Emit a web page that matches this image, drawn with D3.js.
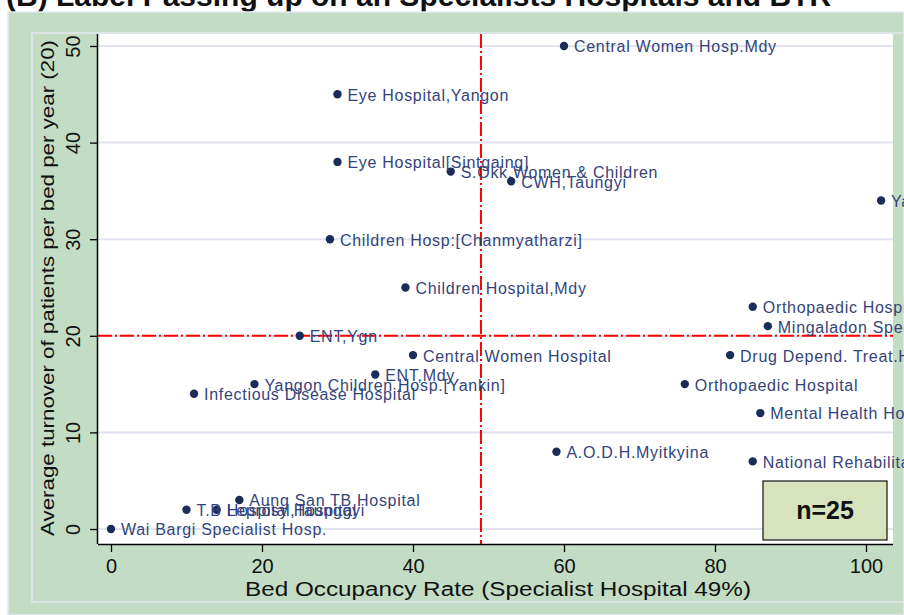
<!DOCTYPE html>
<html>
<head>
<meta charset="utf-8">
<script src="https://cdn.jsdelivr.net/npm/d3@7"></script>
<style>
  body { margin: 0; background: #ffffff; }
  svg { display: block; font-family: "Liberation Sans", Arial, sans-serif; }
</style>
</head>
<body>
<div id="chart"></div>
<script>
// hospital names, bed occupancy rate (%) and bed turnover (patients per bed per year)
const hospitals = [
    'Central Women Hosp.Mdy', 'Eye Hospital,Yangon', 'Eye Hospital[Sintgaing]',
    'S.Okk.Women & Children', 'CWH,Taungyi', 'Yangon Specialist Hospital',
    'Children Hosp:[Chanmyatharzi]', 'Children Hospital,Mdy', 'Orthopaedic Hospital,Mdy',
    'Mingaladon Specialist Hosp.', 'ENT,Ygn', 'Central Women Hospital',
    'Drug Depend. Treat.Hosp.', 'ENT,Mdy', 'Yangon Children Hosp.[Yankin]',
    'Orthopaedic Hospital', 'Infectious Disease Hospital', 'Mental Health Hospital',
    'A.O.D.H.Myitkyina', 'National Rehabilitation Hosp.', 'Aung San TB Hospital',
    'T.B Hospital,Taunggyi', 'Leprosy Hospital', 'Wai Bargi Specialist Hosp.'
];
const occupancy = [60, 30, 30, 45, 53, 102, 29, 39, 85, 87, 25, 40, 82, 35, 19, 76, 11, 86, 59, 85, 17, 10, 14, 0];
const turnover  = [50, 45, 38, 37, 36, 34, 30, 25, 23, 21, 20, 18, 18, 16, 15, 15, 14, 12, 8, 7, 3, 2, 2, 0];

const xTicks = [0, 20, 40, 60, 80, 100];
const yTicks = [0, 10, 20, 30, 40, 50];
const refBOR = 49;       // specialist hospital average occupancy
const refTurnover = 20;  // reference turnover

const titleText = '(B) Label Passing up on an Specialists Hospitals and BTR';
const xTitle = 'Bed Occupancy Rate (Specialist Hospital 49%)';
const yTitle = 'Average turnover of patients per bed per year (20)';
const nText = 'n=25';

const data = hospitals.map((name, i) => ({ name, x: occupancy[i], y: turnover[i] }));

const width = 904, height = 615;
const plot = { left: 98, right: 893, top: 34, bottom: 544 };

const svg = d3.select('#chart')
    .append('svg')
        .attr('width', width)
        .attr('height', height);

// title (mostly above the visible area)
svg.append('text')
    .attr('x', 6)
    .attr('y', 6)
    .style('font-size', '30px')
    .style('font-weight', 'bold')
    .attr('fill', '#111')
    .text(titleText);

// green background and inner border
svg.append('rect')
    .attr('x', 8).attr('y', 12)
    .attr('width', width - 8).attr('height', height - 12)
    .attr('fill', '#c2ddc3')
    .attr('stroke', '#e6e8f2')
    .attr('stroke-width', 1.5);

svg.append('rect')
    .attr('x', 32).attr('y', 33)
    .attr('width', width - 32 + 5).attr('height', 602 - 33)
    .attr('fill', 'none')
    .attr('stroke', '#e4e7f1')
    .attr('stroke-width', 1.5);

// plot area
svg.append('rect')
    .attr('x', plot.left).attr('y', plot.top)
    .attr('width', plot.right - plot.left).attr('height', plot.bottom - plot.top)
    .attr('fill', '#ffffff');

svg.append('clipPath')
    .attr('id', 'plotClip')
    .append('rect')
        .attr('x', plot.left).attr('y', plot.top)
        .attr('width', plot.right - plot.left).attr('height', plot.bottom - plot.top);

// scales
const x = d3.scaleLinear()
    .domain([(plot.left - 111) / 7.55, (plot.right - 111) / 7.55])
    .range([plot.left, plot.right]);

const y = d3.scaleLinear()
    .domain([(529 - plot.bottom) / 9.66, (529 - plot.top) / 9.66])
    .range([plot.bottom, plot.top]);

const inner = svg.append('g').attr('clip-path', 'url(#plotClip)');

// gridlines
inner.selectAll('.grid')
    .data(yTicks)
    .enter()
    .append('line')
        .attr('x1', plot.left).attr('x2', plot.right)
        .attr('y1', d => y(d)).attr('y2', d => y(d))
        .attr('stroke', '#e1e4f0')
        .attr('stroke-width', 2);

// reference lines
inner.append('line')
    .attr('x1', plot.left).attr('x2', plot.right)
    .attr('y1', y(refTurnover)).attr('y2', y(refTurnover))
    .attr('stroke', '#ff0000')
    .attr('stroke-width', 2)
    .attr('stroke-dasharray', '14,3,2,3');

inner.append('line')
    .attr('x1', x(refBOR)).attr('x2', x(refBOR))
    .attr('y1', plot.top).attr('y2', plot.bottom)
    .attr('stroke', '#ff0000')
    .attr('stroke-width', 2)
    .attr('stroke-dasharray', '14,3,2,3');

// points
svg.selectAll('.dot')
    .data(data)
    .enter()
    .append('circle')
        .attr('cx', d => x(d.x))
        .attr('cy', d => y(d.y))
        .attr('r', 4.2)
        .attr('fill', '#1b2c58');

// labels (run past the plot edge, cut only by the page)
svg.selectAll('.lbl')
    .data(data)
    .enter()
    .append('text')
        .attr('x', d => x(d.x) + 10)
        .attr('y', d => y(d.y))
        .attr('dy', '0.4em')
        .attr('fill', '#34447a')
        .style('font-size', '16px')
        .style('letter-spacing', '0.7px')
        .text(d => d.name);

// axes
const xAxis = svg.append('g')
    .attr('transform', `translate(0,${plot.bottom})`)
    .call(d3.axisBottom(x).tickValues(xTicks).tickSize(8).tickPadding(7).tickSizeOuter(0));

xAxis.select('.domain')
    .attr('d', `M${plot.left},0.5H${plot.right}`)
    .attr('stroke', '#000')
    .attr('stroke-width', 1.5);
xAxis.selectAll('.tick line').attr('stroke', '#000').attr('stroke-width', 1.3);
xAxis.selectAll('.tick text')
    .attr('fill', '#111')
    .style('font-size', '20px');

const yAxis = svg.append('g')
    .attr('transform', `translate(${plot.left},0)`)
    .call(d3.axisLeft(y).tickValues(yTicks).tickSize(8).tickSizeOuter(0));

yAxis.select('.domain')
    .attr('d', `M-0.5,${plot.top}V${plot.bottom}`)
    .attr('stroke', '#000')
    .attr('stroke-width', 1.5);
yAxis.selectAll('.tick line').attr('stroke', '#000').attr('stroke-width', 1.3);
yAxis.selectAll('.tick text')
    .attr('fill', '#111')
    .attr('x', 0)
    .attr('dy', 0)
    .attr('transform', 'translate(-18,0) rotate(-90)')
    .style('text-anchor', 'middle')
    .style('font-size', '20px');

// axis titles
svg.append('text')
    .attr('x', 498)
    .attr('y', 596)
    .attr('text-anchor', 'middle')
    .attr('fill', '#111')
    .style('font-size', '20px')
    .attr('textLength', 506)
    .attr('lengthAdjust', 'spacingAndGlyphs')
    .text(xTitle);

svg.append('text')
    .attr('transform', 'translate(54,288) rotate(-90)')
    .attr('text-anchor', 'middle')
    .attr('fill', '#111')
    .style('font-size', '19px')
    .attr('textLength', 496)
    .attr('lengthAdjust', 'spacingAndGlyphs')
    .text(yTitle);

// n box
svg.append('rect')
    .attr('x', 763).attr('y', 481)
    .attr('width', 124).attr('height', 59)
    .attr('fill', '#d7e3bd')
    .attr('stroke', '#111')
    .attr('stroke-width', 1.2);

svg.append('text')
    .attr('x', 825)
    .attr('y', 519)
    .attr('text-anchor', 'middle')
    .attr('fill', '#111')
    .style('font-size', '25px')
    .style('font-weight', 'bold')
    .text(nText);
</script>
</body>
</html>
